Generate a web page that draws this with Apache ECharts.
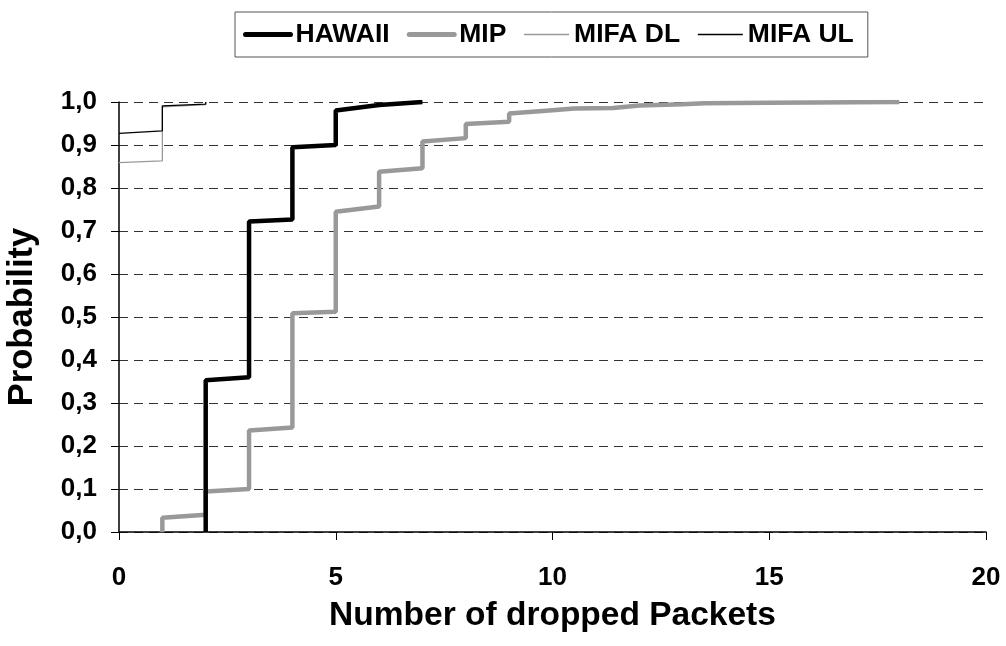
<!DOCTYPE html>
<html>
<head>
<meta charset="utf-8">
<script src="https://cdn.jsdelivr.net/npm/echarts@6/dist/echarts.min.js"></script>
<style>
html,body{margin:0;padding:0;background:#fff;}
#chart{width:1006px;height:646px;}
</style>
</head>
<body>
<div id="chart"></div>
<script>
// ---- data ----
var seriesNames = ['HAWAII', 'MIP', 'MIFA DL', 'MIFA UL'];

var hawaiiX = [2, 2, 3, 3, 4, 4, 5, 5, 6, 7];
var hawaiiY = [0, 0.353, 0.36, 0.722, 0.727, 0.895, 0.90, 0.98, 0.993, 1.0];

var mipX = [1, 1, 2, 2, 3, 3, 4, 4, 5, 5, 6, 6, 7, 7, 8, 8, 9, 9, 10, 10.5, 11.4, 12, 13, 13.5, 15, 18];
var mipY = [0, 0.033, 0.04, 0.094, 0.10, 0.236, 0.243, 0.509, 0.512, 0.745, 0.757, 0.838, 0.846, 0.908, 0.916, 0.949, 0.954, 0.973, 0.981, 0.985, 0.986, 0.992, 0.995, 0.997, 0.998, 1.0];

var mifaDlX = [0, 1, 1, 2, 2];
var mifaDlY = [0.859, 0.863, 0.989, 0.994, 1.0];

var mifaUlX = [0, 1, 1, 2, 2];
var mifaUlY = [0.927, 0.933, 0.991, 0.995, 1.0];

var xTicks = [0, 5, 10, 15, 20];
var yTicks = [0, 0.1, 0.2, 0.3, 0.4, 0.5, 0.6, 0.7, 0.8, 0.9, 1.0];

function zip(xs, ys) {
  return xs.map(function (x, i) { return [x, ys[i]]; });
}

var FONT = 'Liberation Sans, Arial, sans-serif';

var chart = echarts.init(document.getElementById('chart'), null, {renderer: 'canvas'});
var option = {
  backgroundColor: '#ffffff',
  animation: false,
  legend: {
    data: [
      {name: seriesNames[0], lineStyle: {color: '#000', width: 5, cap: 'round'}},
      {name: seriesNames[1], lineStyle: {color: '#999999', width: 5, cap: 'round'}},
      {name: seriesNames[2], lineStyle: {color: '#999999', width: 1.5}},
      {name: seriesNames[3], lineStyle: {color: '#000', width: 1.5}}
    ],
    left: 235,
    top: 12,
    orient: 'horizontal',
    itemWidth: 45,
    itemHeight: 14,
    itemGap: 17,
    padding: [9, 14, 9, 8],
    borderColor: '#555555',
    borderWidth: 1,
    itemStyle: {opacity: 0, color: 'rgba(0,0,0,0)', borderWidth: 0},
    textStyle: {fontFamily: FONT, fontWeight: 'bold', fontSize: 26.5, color: '#000'}
  },
  grid: {left: 119, right: 20, top: 102, bottom: 114, containLabel: false, outerBoundsMode: 'none'},
  xAxis: {
    type: 'value',
    min: xTicks[0],
    max: xTicks[xTicks.length - 1],
    interval: 5,
    name: 'Number of dropped Packets',
    nameLocation: 'middle',
    nameGap: 67,
    nameTextStyle: {fontFamily: FONT, fontWeight: 'bold', fontSize: 33.5, color: '#000'},
    axisLine: {show: true, onZero: false, lineStyle: {color: '#000', width: 1.5}},
    axisTick: {show: true, inside: false, length: 8, lineStyle: {color: '#000', width: 1}},
    axisLabel: {margin: 33, fontFamily: FONT, fontWeight: 'bold', fontSize: 26, color: '#000'},
    splitLine: {show: false}
  },
  yAxis: {
    type: 'value',
    min: yTicks[0],
    max: yTicks[yTicks.length - 1],
    interval: 0.1,
    name: 'Probability',
    nameLocation: 'middle',
    nameGap: 79,
    nameTextStyle: {fontFamily: FONT, fontWeight: 'bold', fontSize: 34.5, color: '#000'},
    axisLine: {show: true, onZero: false, lineStyle: {color: '#000', width: 1.5}},
    axisTick: {show: true, inside: false, length: 8, lineStyle: {color: '#000', width: 1}},
    axisLabel: {
      margin: 22, fontFamily: FONT, fontWeight: 'bold', fontSize: 26, color: '#000',
      formatter: function (v) { return v.toFixed(1).replace('.', ','); }
    },
    splitLine: {show: true, lineStyle: {color: '#333', width: 1, type: [9, 6]}}
  },
  series: [
    {
      name: seriesNames[0], type: 'line', data: zip(hawaiiX, hawaiiY),
      symbol: 'none', showSymbol: false,
      lineStyle: {color: '#000', width: 4.5}, itemStyle: {color: '#000'}, z: 4
    },
    {
      name: seriesNames[1], type: 'line', data: zip(mipX, mipY),
      symbol: 'none', showSymbol: false,
      lineStyle: {color: '#999999', width: 4.5}, itemStyle: {color: '#999999'}, z: 3
    },
    {
      name: seriesNames[2], type: 'line', data: zip(mifaDlX, mifaDlY),
      symbol: 'none', showSymbol: false,
      lineStyle: {color: '#999999', width: 1.3}, itemStyle: {color: '#999999'}, z: 5
    },
    {
      name: seriesNames[3], type: 'line', data: zip(mifaUlX, mifaUlY),
      symbol: 'none', showSymbol: false,
      lineStyle: {color: '#000', width: 1.3}, itemStyle: {color: '#000'}, z: 6
    }
  ]
};
chart.setOption(option);
</script>
</body>
</html>
